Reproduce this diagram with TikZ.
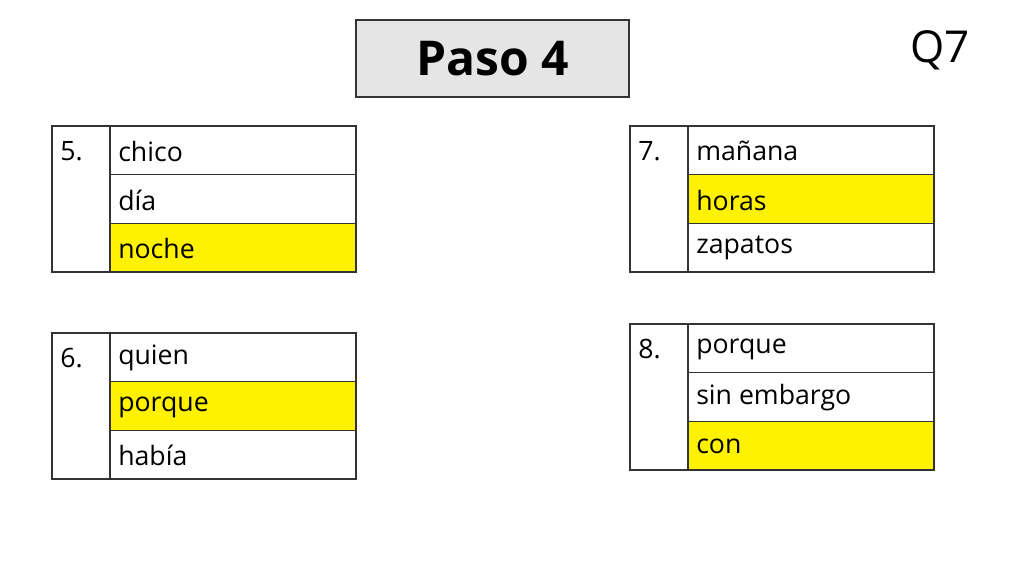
\documentclass[tikz,border=0pt]{standalone}
\usepackage{fontspec}
\setmainfont{Open Sans}
\begin{document}
\begin{tikzpicture}[x=0.75pt,y=-0.75pt,
  cell/.style={draw=black!80,line width=0.8pt},
  hl/.style={fill=yellow},
  txt/.style={anchor=west,font=\fontsize{20}{24}\selectfont,inner sep=0pt}]
\useasboundingbox (0,0) rectangle (1024,576);
\fill[white] (0,0) rectangle (1024,576);
\node[draw=black!80,fill=black!10,line width=0.8pt,minimum width=273*0.75pt,minimum height=77*0.75pt,font=\bfseries\fontsize{36}{40}\selectfont] (title) at (492.5,58.5) {Paso 4};
\node[font=\fontsize{33}{38}\selectfont] (q7) at (940,50) {Q7};
% tables: #1 x, #2 y, #3 num, #4-#6 words, #7 highlighted row
\newcommand\mytable[7]{%
  \begin{scope}[shift={(#1,#2)}]
  \fill[yellow] (58,{(#7-1)*48.7}) rectangle (304,{#7*48.7});
  \draw[cell] (0,0) rectangle (304,146);
  \draw[cell] (58,0) -- (58,146);
  \draw[cell] (58,48.7) -- (304,48.7);
  \draw[cell] (58,97.3) -- (304,97.3);
  \node[txt] at (8,25) {#3};
  \node[txt] at (66,25) {#4};
  \node[txt] at (66,74) {#5};
  \node[txt] at (66,122) {#6};
  \end{scope}}
\mytable{52}{126}{5.}{chico}{día}{noche}{3}
\mytable{630}{126}{7.}{mañana}{horas}{zapatos}{2}
\mytable{52}{333}{6.}{quien}{porque}{había}{2}
\mytable{630}{324}{8.}{porque}{sin embargo}{con}{3}
\end{tikzpicture}
\end{document}
